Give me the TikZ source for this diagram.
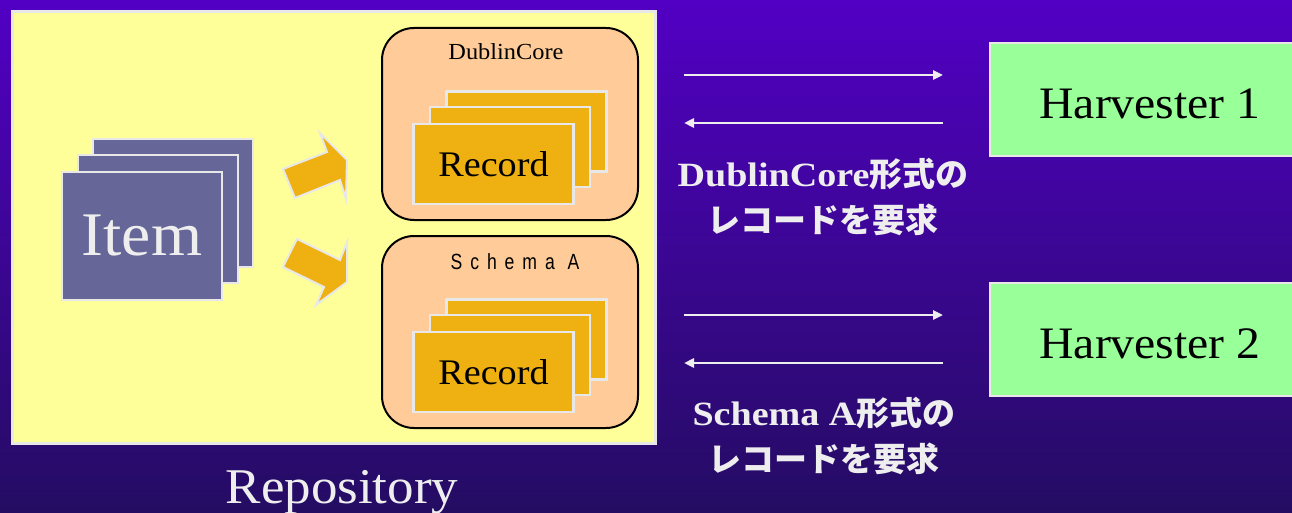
\documentclass[tikz,border=0pt]{standalone}
\usepackage{fontspec}
\setmainfont[FakeStretch=1.06]{Liberation Serif}
\newfontfamily\labelserif[FakeStretch=1.12]{Liberation Serif}
\newfontfamily\jpfont{Noto Sans CJK JP}
\newfontfamily\spacedsans[LetterSpace=36,FakeStretch=0.8]{Liberation Sans}
\usetikzlibrary{arrows.meta}
\definecolor{bgtop}{HTML}{5200C4}
\definecolor{bgbot}{HTML}{240C62}
\definecolor{repoyellow}{HTML}{FFFF99}
\definecolor{lightline}{HTML}{E8E8E8}
\definecolor{peach}{HTML}{FFCC99}
\definecolor{gold}{HTML}{EEB111}
\definecolor{itemblue}{HTML}{666699}
\definecolor{harvgreen}{HTML}{99FF99}
\definecolor{offwhite}{HTML}{EEEEEE}
\tikzset{
  itemcard/.style={draw=lightline, line width=2.5pt, fill=itemblue, minimum width=160pt, minimum height=128pt, inner sep=0pt},
  reccard/.style={draw=lightline, line width=2.5pt, fill=gold, minimum width=160pt, minimum height=80pt, inner sep=0pt},
  schemabox/.style={draw=black, line width=2pt, fill=peach, rounded corners=32pt, minimum width=256pt, minimum height=192pt, inner sep=0pt},
  harvbox/.style={draw=lightline, line width=2.5pt, fill=harvgreen, minimum width=320pt, minimum height=113pt, inner sep=0pt, text height=38pt, font=\fontsize{45}{48}\selectfont},
  blockarrow/.style={draw=lightline, line width=2pt, fill=gold},
  flow/.style={draw=offwhite, line width=2.5pt, -{Triangle[length=10pt,width=9pt]}},
  reqlabel/.style={text=offwhite, align=center, font=\fontsize{34}{46}\selectfont\labelserif\bfseries},
}
\newcommand{\jpbold}[1]{{\jpfont\bfseries\fontsize{33}{46}\selectfont #1}}
\begin{document}
\begin{tikzpicture}[x=1pt,y=-1pt]
\clip (0,0) rectangle (1292,513);
\shade[top color=bgtop, bottom color=bgbot] (0,0) rectangle (1292,513);
% repository
\node[draw=lightline, line width=3pt, fill=repoyellow, minimum width=643pt, minimum height=431pt, inner sep=0pt] (repo) at (333.5,227.5) {};
\node[text=offwhite, font=\fontsize{50}{54}\selectfont] (repolabel) at (342,492) {Repository};
% items
\node[itemcard] (item3) at (173,203) {};
\node[itemcard] (item2) at (158,219) {};
\node[itemcard, text=offwhite, font=\fontsize{62}{66}\selectfont] (item1) at (142,236) {Item};
% block arrows
\filldraw[blockarrow] (283,169) -- (327,152) -- (320,133) -- (347,160) -- (346,199) -- (340,180) -- (295,198) -- cycle;
\filldraw[blockarrow] (297,239) -- (340,260) -- (347,242) -- (347,282) -- (316,305) -- (324,287) -- (283,267) -- cycle;
% schema boxes
\node[schemabox] (dcbox) at (510,124) {};
\node[font=\fontsize{23}{24}\selectfont] (dclabel) at (506,52) {DublinCore};
\node[reccard] (dc3) at (526.5,131.5) {};
\node[reccard] (dc2) at (510,147) {};
\node[reccard, font=\fontsize{36}{40}\selectfont] (dc1) at (493.5,164) {Record};
\node[schemabox] (sabox) at (510,332) {};
\node[font=\fontsize{22}{24}\selectfont\spacedsans] (salabel) at (515,262) {Schema A};
\node[reccard] (sa3) at (526.5,339.5) {};
\node[reccard] (sa2) at (510,355) {};
\node[reccard, font=\fontsize{36}{40}\selectfont] (sa1) at (493.5,372) {Record};
% harvesters
\node[harvbox] (h1) at (1150,99.5) {Harvester 1};
\node[harvbox] (h2) at (1150,339.5) {Harvester 2};
% request arrows
\coordinate (a1s) at (684,75);  \coordinate (a1e) at (943,75);
\coordinate (b1s) at (943,123); \coordinate (b1e) at (684,123);
\coordinate (a2s) at (684,315); \coordinate (a2e) at (943,315);
\coordinate (b2s) at (943,363); \coordinate (b2e) at (684,363);
\draw[flow] (a1s) -- (a1e);
\draw[flow] (b1s) -- (b1e);
\draw[flow] (a2s) -- (a2e);
\draw[flow] (b2s) -- (b2e);
% labels
\node[reqlabel] (req1) at (823,197) {DublinCore\jpbold{形式の}\\\jpbold{レコードを要求}};
\node[reqlabel] (req2) at (824,436) {Schema A\jpbold{形式の}\\\jpbold{レコードを要求}};
\end{tikzpicture}
\end{document}
